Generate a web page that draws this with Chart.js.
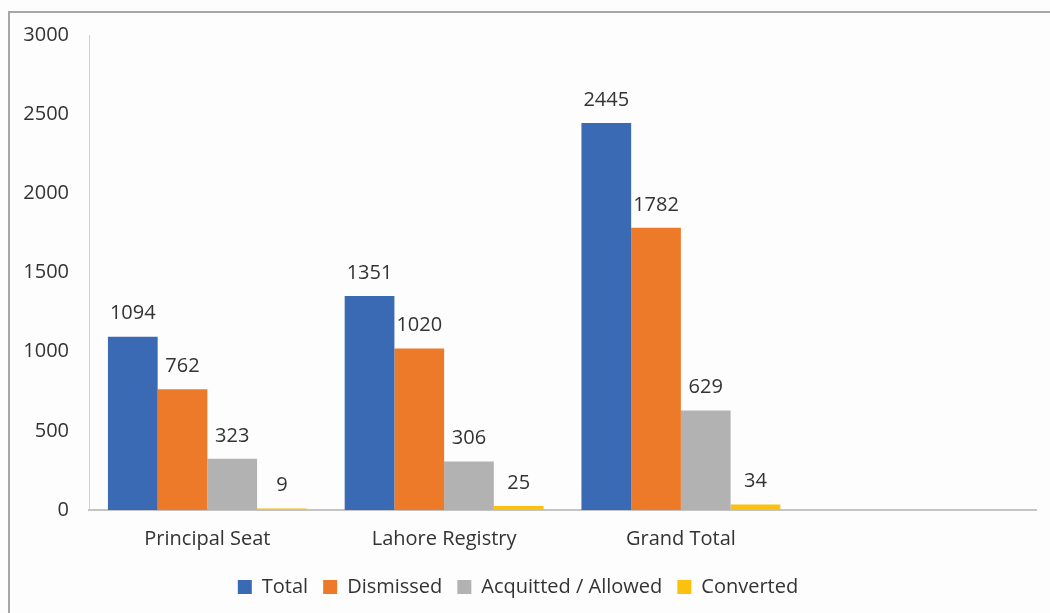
<!DOCTYPE html>
<html>
<head>
<meta charset="utf-8">
<script src="https://cdn.jsdelivr.net/npm/chart.js@4.4.1/dist/chart.umd.min.js"></script>
<style>
  html, body { margin: 0; padding: 0; background: #fdfdfd; }
  #wrap { position: absolute; left: 0; top: 0; width: 1050px; height: 613px; }
  #frame { position: absolute; left: 8px; top: 11px; width: 1060px; height: 620px;
           border: 2px solid #a6a6a6; box-sizing: border-box; pointer-events: none; }
</style>
</head>
<body>
<div id="wrap"><canvas id="chart" width="1050" height="613"></canvas></div>
<div id="frame"></div>
<script>
const categories = ["Principal Seat", "Lahore Registry", "Grand Total", ""];
const totalValues = [1094, 1351, 2445, null];
const dismissedValues = [762, 1020, 1782, null];
const acquittedValues = [323, 306, 629, null];
const convertedValues = [9, 25, 34, null];

const FONT = "'Open Sans', sans-serif";
const INK = "#333333";

// value labels above each bar
const barValueLabels = {
  id: "barValueLabels",
  afterDatasetsDraw(chart) {
    const ctx = chart.ctx;
    ctx.save();
    ctx.font = `20px ${FONT}`;
    ctx.fillStyle = INK;
    ctx.textAlign = "center";
    ctx.textBaseline = "middle";
    chart.data.datasets.forEach((ds, i) => {
      chart.getDatasetMeta(i).data.forEach((bar, j) => {
        const v = ds.data[j];
        if (v === null || v === undefined) return;
        ctx.fillText(String(v), bar.x, bar.y - 23);
      });
    });
    ctx.restore();
  },
};

function makeDataset(label, data, color) {
  return {
    label,
    data,
    backgroundColor: color,
    borderWidth: 0,
    categoryPercentage: 0.84,
    barPercentage: 1,
  };
}

new Chart(document.getElementById("chart"), {
  type: "bar",
  data: {
    labels: categories,
    datasets: [
      makeDataset("Total", totalValues, "#3a6ab4"),
      makeDataset("Dismissed", dismissedValues, "#ec7a28"),
      makeDataset("Acquitted / Allowed", acquittedValues, "#b2b2b2"),
      makeDataset("Converted", convertedValues, "#fcc10f"),
    ],
  },
  options: {
    responsive: false,
    animation: false,
    layout: { padding: { top: 35, right: 14, left: 0, bottom: 6 } },
    plugins: {
      legend: {
        position: "bottom",
        labels: {
          color: INK,
          font: { family: FONT, size: 20 },
          boxWidth: 14,
          boxHeight: 14,
          padding: 15,
        },
      },
      tooltip: { enabled: false },
    },
    scales: {
      x: {
        grid: { display: false, drawTicks: false },
        border: { color: "#c4c4c4", width: 2 },
        ticks: { color: INK, font: { family: FONT, size: 20 }, padding: 17 },
        afterFit(scale) { scale.height = 52; },
      },
      y: {
        min: 0,
        max: 3000,
        grid: { display: false, drawTicks: false },
        border: { color: "#d0d0d0", width: 1 },
        ticks: {
          stepSize: 500,
          color: INK,
          font: { family: FONT, size: 20 },
          padding: 20,
          callback: (v) => String(v),
        },
        afterFit(scale) { scale.width = 89; },
      },
    },
  },
  plugins: [barValueLabels],
});
</script>
</body>
</html>
